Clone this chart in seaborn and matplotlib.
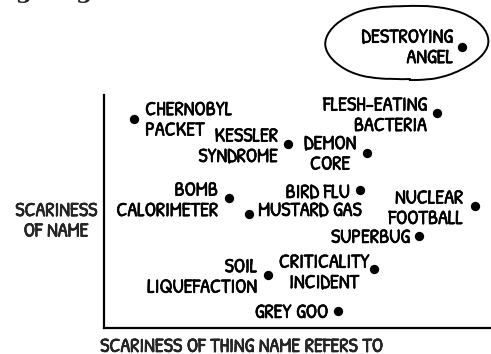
import matplotlib
matplotlib.use("Agg")
import matplotlib.pyplot as plt
import matplotlib.patheffects as pe
from matplotlib.patches import Ellipse
import pandas as pd
import seaborn as sns

# data: scariness of the thing (x) vs scariness of its name (y), 0-10 scale
names = ["CHERNOBYL\nPACKET", "KESSLER\nSYNDROME", "DEMON\nCORE", "FLESH-EATING\nBACTERIA",
         "BOMB\nCALORIMETER", "MUSTARD GAS", "BIRD FLU", "NUCLEAR\nFOOTBALL", "SUPERBUG",
         "SOIL\nLIQUEFACTION", "CRITICALITY\nINCIDENT", "GREY GOO", "DESTROYING\nANGEL"]
thing_scariness = [0.78, 4.75, 6.80, 8.60, 3.23, 3.75, 6.61, 9.59, 8.14, 4.24, 6.98, 6.05, 9.25]
name_scariness = [8.97, 7.90, 7.51, 9.23, 5.58, 4.89, 5.92, 5.24, 3.95, 2.27, 2.53, 0.73, 12.06]

# label placement (pixel offsets from the dot, horizontal alignment)
label_offsets = [(11, -2.5), (-10, -4), (-37, -2.5), (-10, -4), (-11, -4), (9, 2), (-10, -4),
                 (-12, -4), (-9, -3), (-11, -3.5), (-50, -5), (-10, -3), (-9, -2)]
label_ha = ["left", "right", "center", "right", "right", "left", "right",
            "right", "right", "right", "center", "right", "right"]

df = pd.DataFrame({"thing": thing_scariness, "name": name_scariness, "label": names})

sns.set_style("white")
hand = ["Humor Sans", "Patrick Hand", "Comic Neue", "DejaVu Sans"]
plt.rcParams["font.family"] = hand
FS = 14.5
ink = [pe.withStroke(linewidth=0.45, foreground="black")]

fig = plt.figure(figsize=(4.91, 3.54), dpi=100)
ax = fig.add_axes([104 / 491, 26 / 354, 387 / 491, 233 / 354])

sns.scatterplot(data=df, x="thing", y="name", color="black", s=45, edgecolor="black",
                linewidth=0, ax=ax, clip_on=False, zorder=3)

for i, row in df.iterrows():
    ax.annotate(row["label"], (row["thing"], row["name"]), xytext=label_offsets[i],
                textcoords="offset pixels", ha=label_ha[i], va="center",
                fontsize=FS, linespacing=1.03, color="black", annotation_clip=False,
                path_effects=ink)

# the circled outlier above the chart
oval = Ellipse((7.82, 12.25), 4.26, 3.22, angle=3, fill=False, edgecolor="black",
               linewidth=1.4, clip_on=False)
oval.set_sketch_params(scale=1.0, length=120, randomness=3)
ax.add_patch(oval)

ax.set_xlim(0, 10)
ax.set_ylim(0, 10)
ax.set_xticks([])
ax.set_yticks([])
sns.despine(ax=ax)
for side in ["left", "bottom"]:
    ax.spines[side].set_linewidth(1.6)
    ax.spines[side].set_color("black")

ax.set_xlabel("SCARINESS OF THING NAME REFERS TO", fontsize=FS, ha="left", path_effects=ink)
ax.xaxis.set_label_coords(-0.01, -0.086)
ax.xaxis.label.set_va("center")
ax.set_ylabel("SCARINESS\nOF NAME", fontsize=FS, rotation=0, ha="center", va="center",
              linespacing=1.03, path_effects=ink)
ax.yaxis.set_label_coords(-0.124, 0.453)

# tail of the comic's title, cut off by the top edge
fig.text(125 / 491, 1 + 2 / 354, "Destroying Angel.", ha="right", va="baseline",
         fontsize=17, fontweight="bold", family="DejaVu Serif")

fig.savefig("out.png", dpi=100)
